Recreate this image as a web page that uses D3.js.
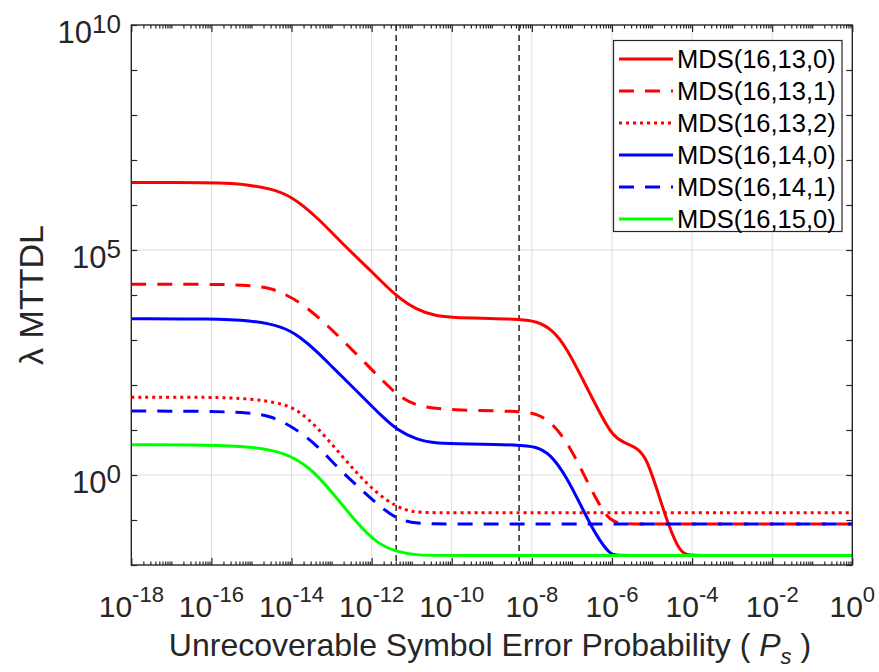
<!DOCTYPE html>
<html lang="en">
<head>
<meta charset="UTF-8">
<title>MTTDL vs Ps</title>
<style>
  body { margin: 0; background: #fff; }
  svg { display: block; font-family: "Liberation Sans", Arial, Helvetica, sans-serif; }
</style>
</head>
<body>
<script src="https://cdn.jsdelivr.net/npm/d3@7/dist/d3.min.js"></script>
<script>
const W = 879, H = 672;
const box = {left: 131.3, right: 852.3, top: 25, bottom: 565};

// points: [log10(Ps), log10(lambda MTTDL)]
const mds_16_13_0 = [[-18, 6.50], [-16, 6.50], [-15.5, 6.48], [-15.04, 6.44], [-14.54, 6.37], [-14.0, 6.20],
  [-13.37, 5.74], [-12.62, 5.04], [-12.04, 4.56], [-11.4, 3.98], [-10.88, 3.67], [-10.38, 3.53], [-10.0, 3.50],
  [-9.0, 3.48], [-8.3, 3.46], [-7.88, 3.42], [-7.47, 3.22], [-7.13, 2.82], [-6.72, 2.11], [-6.3, 1.37],
  [-5.97, 0.85], [-5.7, 0.72], [-5.4, 0.62], [-5.15, 0.40], [-4.9, -0.25], [-4.6, -1.10], [-4.3, -1.72],
  [-4.1, -1.79], [-3.5, -1.79], [0, -1.79]];
const mds_16_13_1 = [[-18, 4.24], [-16, 4.24], [-15.04, 4.22], [-14.54, 4.15], [-14.29, 4.07], [-13.79, 3.85],
  [-13.25, 3.44], [-12.96, 3.20], [-12.12, 2.46], [-11.39, 1.78], [-10.88, 1.52], [-10.04, 1.44], [-8.32, 1.42],
  [-7.88, 1.37], [-7.47, 1.15], [-7.05, 0.63], [-6.72, 0.04], [-6.38, -0.56], [-6.13, -0.93], [-5.88, -1.09],
  [-5.3, -1.09], [0, -1.09]];
const mds_16_13_2 = [[-18, 1.73], [-16, 1.73], [-15.04, 1.70], [-14.21, 1.59], [-13.79, 1.41], [-13.37, 1.07],
  [-12.87, 0.56], [-12.37, 0.04], [-11.87, -0.41], [-11.4, -0.69], [-11.04, -0.82], [-10.5, -0.84],
  [-9.5, -0.84], [0, -0.84]];
const mds_16_14_0 = [[-18, 3.47], [-16, 3.47], [-15.04, 3.44], [-14.21, 3.30], [-13.79, 3.07], [-13.37, 2.75],
  [-12.96, 2.38], [-12.5, 1.98], [-12.04, 1.57], [-11.71, 1.28], [-11.39, 1.02], [-10.88, 0.78], [-10.38, 0.70],
  [-9.63, 0.69], [-8.32, 0.67], [-7.9, 0.63], [-7.55, 0.48], [-7.13, -0.04], [-6.72, -0.78], [-6.38, -1.37],
  [-6.05, -1.76], [-5.9, -1.79], [-5.3, -1.79], [0, -1.79]];
const mds_16_14_1 = [[-18, 1.42], [-16, 1.42], [-15.04, 1.38], [-14.54, 1.32], [-13.96, 1.07], [-13.37, 0.67],
  [-12.87, 0.18], [-12.29, -0.30], [-11.79, -0.70], [-11.4, -0.96], [-11.04, -1.06], [-10.5, -1.09],
  [-9.5, -1.09], [0, -1.09]];
const mds_16_15_0 = [[-18, 0.67], [-16, 0.67], [-15.04, 0.63], [-14.21, 0.52], [-13.54, 0.18], [-12.96, -0.41],
  [-12.37, -1.07], [-11.87, -1.52], [-11.4, -1.70], [-10.88, -1.79], [-10.0, -1.79], [0, -1.79]];

const seriesNames = ["MDS(16,13,0)", "MDS(16,13,1)", "MDS(16,13,2)", "MDS(16,14,0)", "MDS(16,14,1)", "MDS(16,15,0)"];
const xLabelExps = [-18, -16, -14, -12, -10, -8, -6, -4, -2, 0];
const yLabelExps = [0, 5, 10];
const markerPs = [4.1e-12, 4.8e-9];   // dashed vertical markers

const styles = [
  {color: "#ff0000", dash: null},
  {color: "#ff0000", dash: "15,11"},
  {color: "#ff0000", dash: "3,4"},
  {color: "#0000ff", dash: null},
  {color: "#0000ff", dash: "15,11"},
  {color: "#00ff00", dash: null}
];
const data = [mds_16_13_0, mds_16_13_1, mds_16_13_2, mds_16_14_0, mds_16_14_1, mds_16_15_0];

const svg = d3.select("body").append("svg").attr("width", W).attr("height", H);
svg.append("rect").attr("width", W).attr("height", H).attr("fill", "#fff");

const x = d3.scaleLog().domain([1e-18, 1]).range([box.left, box.right]);
const y = d3.scaleLog().domain([1e-2, 1e10]).range([box.bottom, box.top]);

// grid
const grid = svg.append("g").attr("stroke", "#dcdcdc").attr("stroke-width", 1);
xLabelExps.slice(1, -1).forEach(e => {
  grid.append("line").attr("x1", x(10 ** e)).attr("x2", x(10 ** e)).attr("y1", box.top).attr("y2", box.bottom);
});
yLabelExps.slice(0, -1).forEach(e => {
  grid.append("line").attr("y1", y(10 ** e)).attr("y2", y(10 ** e)).attr("x1", box.left).attr("x2", box.right);
});

// ticks
const xMajor = xLabelExps.map(e => 10 ** e);
const xMinor = [];
for (let n = -18; n < 0; n++) {
  for (let k = 1; k < 10; k++) {
    if (k === 1 && n % 2 === 0) continue;
    xMinor.push(k * 10 ** n);
  }
}
const yTicks = d3.range(-2, 11).map(e => 10 ** e);

function styleAxis(g) {
  g.select(".domain").remove();
  g.selectAll("line").attr("stroke", "#262626").attr("stroke-width", 1.2);
}
svg.append("g").attr("transform", `translate(0,${box.bottom})`)
  .call(d3.axisBottom(x).tickValues(xMajor).tickSize(-7).tickFormat("")).call(styleAxis);
svg.append("g").attr("transform", `translate(0,${box.bottom})`)
  .call(d3.axisBottom(x).tickValues(xMinor).tickSize(-3.5).tickFormat("")).call(styleAxis);
svg.append("g").attr("transform", `translate(0,${box.top})`)
  .call(d3.axisTop(x).tickValues(xMajor).tickSize(-7).tickFormat("")).call(styleAxis);
svg.append("g").attr("transform", `translate(0,${box.top})`)
  .call(d3.axisTop(x).tickValues(xMinor).tickSize(-3.5).tickFormat("")).call(styleAxis);
svg.append("g").attr("transform", `translate(${box.left},0)`)
  .call(d3.axisLeft(y).tickValues(yTicks).tickSize(-6).tickFormat("")).call(styleAxis);
svg.append("g").attr("transform", `translate(${box.right},0)`)
  .call(d3.axisRight(y).tickValues(yTicks).tickSize(-6).tickFormat("")).call(styleAxis);

// tick labels
const xl = svg.append("g").attr("fill", "#262626");
xLabelExps.forEach(e => {
  const t = xl.append("text").attr("x", x(10 ** e)).attr("y", 617).attr("text-anchor", "middle");
  t.append("tspan").attr("font-size", 30).text("10");
  t.append("tspan").attr("font-size", 22).attr("dy", -15).text(e === 0 ? "0" : "-" + (-e));
});
const yl = svg.append("g").attr("fill", "#262626");
yLabelExps.forEach(e => {
  const t = yl.append("text").attr("x", 121).attr("y", y(10 ** e) + 18).attr("text-anchor", "end");
  t.append("tspan").attr("font-size", 31).text("10");
  t.append("tspan").attr("font-size", 26).attr("dy", -10).text(String(e));
});

// axis titles
const xt = svg.append("text").attr("x", 490).attr("y", 656).attr("text-anchor", "middle")
  .attr("font-size", 32).attr("fill", "#262626");
xt.append("tspan").text("Unrecoverable Symbol Error Probability ( ");
xt.append("tspan").attr("font-style", "italic").text("P");
xt.append("tspan").attr("font-style", "italic").attr("font-size", 22).attr("dy", 8).text("s");
xt.append("tspan").attr("dy", -8).text(" )");

svg.append("text").attr("transform", "translate(43,295) rotate(-90)").attr("text-anchor", "middle")
  .attr("font-size", 34).attr("fill", "#262626").text("\u03bb MTTDL");

// marker lines
svg.append("g").selectAll("line").data(markerPs).join("line")
  .attr("x1", d => x(d)).attr("x2", d => x(d))
  .attr("y1", box.top).attr("y2", box.bottom)
  .attr("stroke", "#333").attr("stroke-width", 1.6).attr("stroke-dasharray", "6,4");

// curves
const line = d3.line()
  .x(d => x(10 ** d[0]))
  .y(d => y(10 ** d[1]))
  .curve(d3.curveBasis);

const plot = svg.append("g");
data.forEach((pts, i) => {
  plot.append("path").datum(pts)
    .attr("d", line)
    .attr("fill", "none")
    .attr("stroke", styles[i].color)
    .attr("stroke-width", 3)
    .attr("stroke-dasharray", styles[i].dash);
});

// box
svg.append("rect").attr("x", box.left).attr("y", box.top)
  .attr("width", box.right - box.left).attr("height", box.bottom - box.top)
  .attr("fill", "none").attr("stroke", "#262626").attr("stroke-width", 1.4);

// legend
const lg = svg.append("g");
lg.append("rect").attr("x", 613.5).attr("y", 40.5).attr("width", 228.5).attr("height", 191)
  .attr("fill", "#fff").attr("stroke", "#262626").attr("stroke-width", 1.2);
seriesNames.forEach((name, i) => {
  const cy = 59 + i * 32;
  lg.append("line").attr("x1", 619).attr("x2", 673).attr("y1", cy).attr("y2", cy)
    .attr("stroke", styles[i].color).attr("stroke-width", 3)
    .attr("stroke-dasharray", styles[i].dash);
  lg.append("text").attr("x", 677).attr("y", cy + 9).attr("font-size", 25.5)
    .attr("fill", "#000").text(name);
});
</script>
</body>
</html>
